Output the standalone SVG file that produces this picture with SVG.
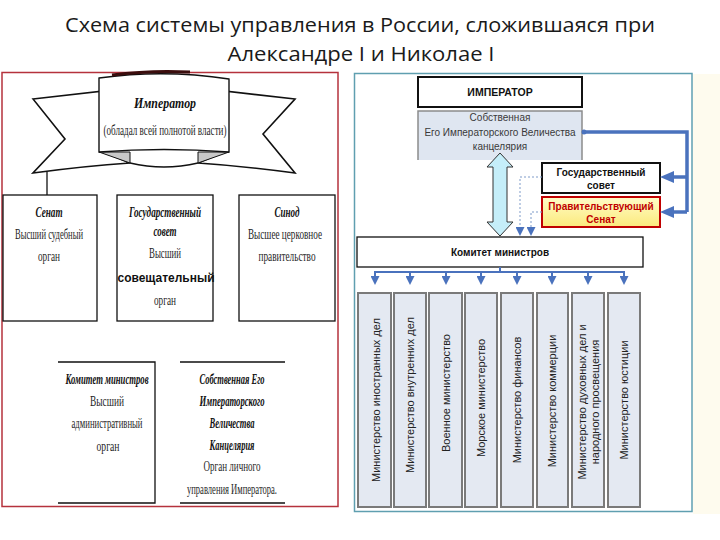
<svg xmlns="http://www.w3.org/2000/svg" width="720" height="540" viewBox="0 0 720 540">
<defs>
<style>
.title{font-family:"Open Sans","Noto Sans","Liberation Sans",sans-serif;font-size:20px;fill:#1a1a1a;text-anchor:middle}
.ser{font-family:"Liberation Serif","DejaVu Serif",serif;font-size:14px;fill:#1e1e1e;text-anchor:middle}
.it{font-style:italic;font-weight:bold;fill:#111}
.sans{font-family:"Liberation Sans",Arial,sans-serif;text-anchor:middle}
.bold{font-weight:bold}
.kanc{font-size:10px;fill:#3a3a3a}
.min{font-size:11px;fill:#222}
.box{fill:#fff;stroke:#111;stroke-width:1.3}
.rbox{fill:#fff;stroke:#111;stroke-width:2}
.mbox{fill:#e4e9f2;stroke:#7a7a7a;stroke-width:2}
.blue{fill:none;stroke:#4a72bd}
.dash{fill:none;stroke:#7f9bc9;stroke-width:1;stroke-dasharray:2 2}
.line{fill:none;stroke:#111;stroke-width:1.3}
</style>
<marker id="bigArrow" markerUnits="userSpaceOnUse" markerWidth="14" markerHeight="12" refX="6" refY="6" orient="auto">
<path d="M0,0 L14,6 L0,12 Z" fill="#4a72bd"/>
</marker>
<marker id="smallArrow" markerUnits="userSpaceOnUse" markerWidth="9" markerHeight="9" refX="3" refY="4.5" orient="auto">
<path d="M0,0 L9,4.5 L0,9 Z" fill="#4a72bd"/>
</marker>
<linearGradient id="yel" x1="0" y1="0" x2="0" y2="1">
<stop offset="0" stop-color="#fffdc8"/>
<stop offset="1" stop-color="#fbe97c"/>
</linearGradient>
</defs>

<g id="title">
<text class="title" x="360" y="32" textLength="590" lengthAdjust="spacingAndGlyphs">Схема системы управления в России, сложившаяся при</text>
<text class="title" x="361" y="61" textLength="267" lengthAdjust="spacingAndGlyphs">Александре I и Николае I</text>
</g>

<!-- LEFT PANEL -->
<rect id="left-frame" x="2" y="72.5" width="336" height="434" fill="#fff" stroke="#b5323c" stroke-width="1.5"/>

<g id="left-emperor">
<path d="M33,99 L104,91 L104,152 L130,163 Q85,166 33,173 L65,139 Z" fill="#fff" stroke="#111" stroke-width="1.6"/>
<path d="M295,99 L224,91 L224,152 L198,163 Q243,166 295,173 L263,134 Z" fill="#fff" stroke="#111" stroke-width="1.6"/>
<path d="M130,163 Q164,171 198,163" fill="none" stroke="#111" stroke-width="1.6"/>
<polygon points="99,152 130,152 130,163" fill="#c8c8c8" stroke="#111" stroke-width="1"/>
<polygon points="229,152 198,152 198,163" fill="#c8c8c8" stroke="#111" stroke-width="1"/>
<path d="M99,78 Q164,69 229,79 L229,152 Q164,147 99,152 Z" fill="#fff" stroke="#111" stroke-width="1.4"/>
<path d="M112,75 Q150,70 190,72" fill="none" stroke="#3b0d0d" stroke-width="3"/>
<text class="ser it" x="165" y="108" font-size="16" textLength="62" lengthAdjust="spacingAndGlyphs">Император</text>
<text class="ser" x="165" y="135" font-size="11" textLength="123" lengthAdjust="spacingAndGlyphs">(обладал всей полнотой власти)</text>
</g>

<g id="left-senat">
<rect class="box" x="3" y="195" width="94" height="126"/>
<text class="ser it" x="49" y="217" textLength="27" lengthAdjust="spacingAndGlyphs">Сенат</text>
<text class="ser" x="49" y="239" textLength="68" lengthAdjust="spacingAndGlyphs">Высший судебный</text>
<text class="ser" x="49" y="261" textLength="22" lengthAdjust="spacingAndGlyphs">орган</text>
</g>

<g id="left-gossovet">
<rect class="box" x="117" y="195" width="96" height="126"/>
<text class="ser it" x="165" y="217" textLength="72" lengthAdjust="spacingAndGlyphs">Государственный</text>
<text class="ser it" x="165" y="236" textLength="23" lengthAdjust="spacingAndGlyphs">совет</text>
<text class="ser" x="165" y="258" textLength="32" lengthAdjust="spacingAndGlyphs">Высший</text>
<text class="sans bold" x="166" y="282" font-size="12" fill="#111" textLength="97" lengthAdjust="spacingAndGlyphs">совещательный</text>
<text class="ser" x="165" y="305" textLength="22" lengthAdjust="spacingAndGlyphs">орган</text>
</g>

<g id="left-sinod">
<rect class="box" x="239" y="195" width="96" height="126"/>
<text class="ser it" x="287" y="217" textLength="25" lengthAdjust="spacingAndGlyphs">Синод</text>
<text class="ser" x="285" y="239" textLength="74" lengthAdjust="spacingAndGlyphs">Высшее церковное</text>
<text class="ser" x="287" y="261" textLength="57" lengthAdjust="spacingAndGlyphs">правительство</text>
</g>

<g id="left-komitet">
<path class="line" d="M58,362 H155 V503 H58"/>
<text class="ser it" x="107" y="384" textLength="83" lengthAdjust="spacingAndGlyphs">Комитет министров</text>
<text class="ser" x="107" y="406" textLength="34" lengthAdjust="spacingAndGlyphs">Высший</text>
<text class="ser" x="107" y="428" textLength="71" lengthAdjust="spacingAndGlyphs">административный</text>
<text class="ser" x="108" y="451" textLength="23" lengthAdjust="spacingAndGlyphs">орган</text>
</g>

<g id="left-kanc">
<path class="line" d="M180,362 H285 M180,503 H285"/>
<text class="ser it" x="232" y="384" textLength="65" lengthAdjust="spacingAndGlyphs">Собственная Его</text>
<text class="ser it" x="232" y="406" textLength="65" lengthAdjust="spacingAndGlyphs">Императорского</text>
<text class="ser it" x="232" y="428" textLength="45" lengthAdjust="spacingAndGlyphs">Величества</text>
<text class="ser it" x="232" y="450" textLength="45" lengthAdjust="spacingAndGlyphs">Канцелярия</text>
<text class="ser" x="232" y="471" textLength="57" lengthAdjust="spacingAndGlyphs">Орган личного</text>
<text class="ser" x="232" y="494" textLength="90" lengthAdjust="spacingAndGlyphs">управления Императора.</text>
</g>

<!-- RIGHT PANEL -->
<rect x="693" y="74" width="27" height="440" fill="#fefbee"/>
<rect id="right-frame" x="354.5" y="73.5" width="337.5" height="438" fill="#fff" stroke="#5f9fb0" stroke-width="1.5"/>

<g id="r-emperor">
<rect class="rbox" x="418" y="77" width="164" height="30"/>
<text class="sans bold" x="500" y="96" font-size="10.5" fill="#111">ИМПЕРАТОР</text>
</g>

<g id="r-kanc">
<rect x="418" y="111" width="164" height="49" fill="#dfe6f1"/>
<path d="M418,160 V111 H582 V160" fill="none" stroke="#8c8c8c" stroke-width="1.5"/>
<text class="sans kanc" x="500" y="121">Собственная</text>
<text class="sans kanc" x="500" y="136">Его Императорского Величества</text>
<text class="sans kanc" x="500" y="150">канцелярия</text>
</g>

<g id="r-gossovet">
<rect class="rbox" x="542" y="163" width="118" height="30"/>
<text class="sans bold" x="601" y="176" font-size="10" fill="#111">Государственный</text>
<text class="sans bold" x="601" y="189" font-size="10" fill="#111">совет</text>
</g>

<g id="r-senat">
<rect x="542" y="197" width="118" height="30" fill="url(#yel)" stroke="#c00000" stroke-width="2"/>
<text class="sans bold" x="601" y="210" font-size="10" fill="#c00000">Правительствующий</text>
<text class="sans bold" x="601" y="223" font-size="10" fill="#c00000">Сенат</text>
</g>

<g id="r-komitet">
<rect class="box" x="357" y="237" width="286" height="30" stroke-width="1.5"/>
<text class="sans bold" x="500" y="256" font-size="10" fill="#111">Комитет министров</text>
</g>

<g id="ministries">
<g id="m1"><rect class="mbox" x="358" y="293" width="33" height="214"/>
<text class="sans min" transform="translate(376,400) rotate(-90)" y="4">Министерство иностранных дел</text></g>
<g id="m2"><rect class="mbox" x="394" y="293" width="32" height="214"/>
<text class="sans min" transform="translate(410,395) rotate(-90)" y="4">Министерство внутренних дел</text></g>
<g id="m3"><rect class="mbox" x="429" y="293" width="33" height="214"/>
<text class="sans min" transform="translate(446,393) rotate(-90)" y="4">Военное министерство</text></g>
<g id="m4"><rect class="mbox" x="465" y="293" width="32" height="214"/>
<text class="sans min" transform="translate(481,398) rotate(-90)" y="4">Морское министерство</text></g>
<g id="m5"><rect class="mbox" x="501" y="293" width="32" height="214"/>
<text class="sans min" transform="translate(517,400) rotate(-90)" y="4">Министерство финансов</text></g>
<g id="m6"><rect class="mbox" x="537" y="293" width="31" height="214"/>
<text class="sans min" transform="translate(552,401) rotate(-90)" y="4">Министерство коммерции</text></g>
<g id="m7"><rect class="mbox" x="572" y="293" width="32" height="214"/>
<text class="sans min" transform="translate(588,402) rotate(-90)"><tspan x="0" y="-2">Министерство духовных дел и</tspan><tspan x="0" y="11">народного просвещения</tspan></text></g>
<g id="m8"><rect class="mbox" x="608" y="293" width="32" height="214"/>
<text class="sans min" transform="translate(624,400) rotate(-90)" y="4">Министерство юстиции</text></g>
</g>

<g id="connectors">
<line class="line" x1="47" y1="172" x2="47" y2="195"/>
<polygon points="500,153 513,167 507,167 507,222 513,222 500,236 487,222 493,222 493,167 487,167" fill="#c5eef9" stroke="#333" stroke-width="1"/>
<path class="blue" stroke-width="3.5" d="M582,132 H687 V212"/>
<circle cx="584" cy="132" r="2.5" fill="#4a72bd"/>
<path class="blue" stroke-width="3.5" d="M687,177 H668" marker-end="url(#bigArrow)"/>
<path class="blue" stroke-width="3.5" d="M687,212 H668" marker-end="url(#bigArrow)"/>
<path class="dash" d="M542,177 H520 V230" marker-end="url(#smallArrow)"/>
<path class="dash" d="M542,212 H531 V230" marker-end="url(#smallArrow)"/>
<path class="blue" stroke-width="2" d="M500,267 V272 M374,272 H625"/>
<path class="blue" stroke-width="2" d="M375,272 V279" marker-end="url(#smallArrow)"/>
<path class="blue" stroke-width="2" d="M410,272 V279" marker-end="url(#smallArrow)"/>
<path class="blue" stroke-width="2" d="M446,272 V279" marker-end="url(#smallArrow)"/>
<path class="blue" stroke-width="2" d="M481,272 V279" marker-end="url(#smallArrow)"/>
<path class="blue" stroke-width="2" d="M517,272 V279" marker-end="url(#smallArrow)"/>
<path class="blue" stroke-width="2" d="M552,272 V279" marker-end="url(#smallArrow)"/>
<path class="blue" stroke-width="2" d="M588,272 V279" marker-end="url(#smallArrow)"/>
<path class="blue" stroke-width="2" d="M624,272 V279" marker-end="url(#smallArrow)"/>
</g>
</svg>
